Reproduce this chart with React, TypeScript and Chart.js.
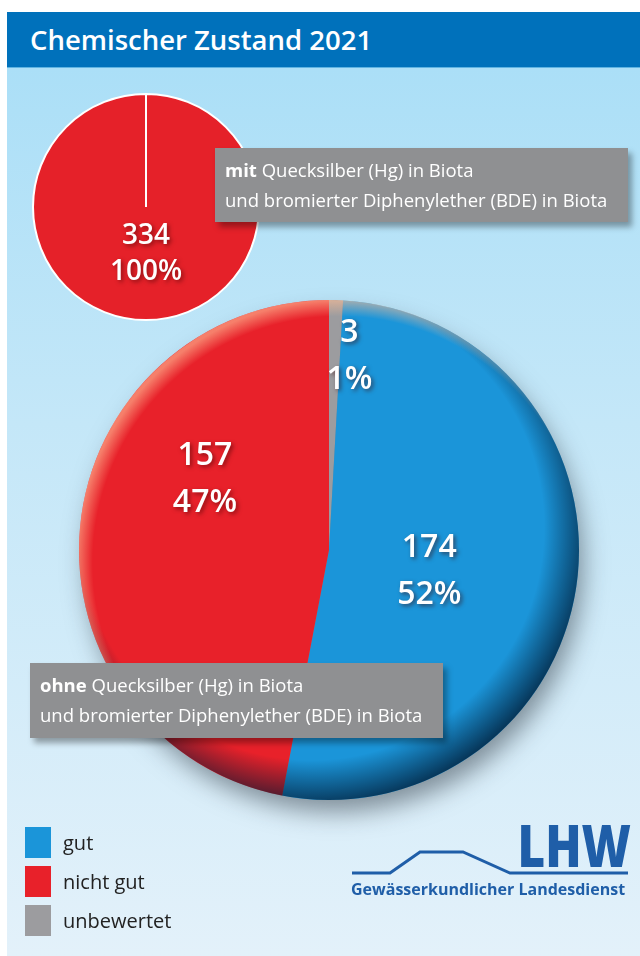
import React, { useEffect, useRef } from "react";
import { Chart, registerables } from "chart.js";

Chart.register(...registerables);

// ---------- data ----------
const title = "Chemischer Zustand 2021";
const legendCategories = ["gut", "nicht gut", "unbewertet"];
const legendColors = ["#1b95d9", "#e8212a", "#9c9c9f"];

// "mit Hg/BDE" pie (single category)
const mitCategories = ["nicht gut"];
const mitValues = [334];
const mitColors = ["#e52129"];

// "ohne Hg/BDE" pie, clockwise from top
const ohneCategories = ["unbewertet", "gut", "nicht gut"];
const ohneValues = [3, 174, 157];
const ohneColors = ["#9c9c9f", "#1b95d9", "#e8212a"];

const mitCaptionBold = "mit";
const ohneCaptionBold = "ohne";
const captionLine1 = " Quecksilber (Hg) in Biota";
const captionLine2 = "und bromierter Diphenylether (BDE) in Biota";

const logoText = "LHW";
const logoSub = "Gewässerkundlicher Landesdienst";

const FONT = "'Open Sans', 'DejaVu Sans', sans-serif";

// ---------- plugins ----------
const pieLabelPlugin = {
  id: "pieLabels",
  afterDatasetsDraw(chart: any, _args: any, opts: any) {
    const meta = chart.getDatasetMeta(0);
    const data: number[] = chart.data.datasets[0].data;
    const total = data.reduce((a, b) => a + b, 0);
    const ctx: CanvasRenderingContext2D = chart.ctx;
    ctx.save();
    ctx.font = opts.font;
    ctx.fillStyle = "#ffffff";
    ctx.textAlign = "center";
    ctx.textBaseline = "middle";
    ctx.shadowColor = "rgba(60,0,0,0.55)";
    ctx.shadowBlur = 4;
    ctx.shadowOffsetX = 2;
    ctx.shadowOffsetY = 2;
    meta.data.forEach((arc: any, i: number) => {
      const { x, y, outerRadius } = arc.getProps(["x", "y", "outerRadius"], true);
      const p = opts.placements[i];
      const a = ((p.angle - 90) * Math.PI) / 180;
      const cx = x + Math.cos(a) * p.r * outerRadius;
      const cy = y + Math.sin(a) * p.r * outerRadius;
      const pct = Math.round((data[i] / total) * 100) + "%";
      ctx.fillText(String(data[i]), cx, cy - opts.lineGap / 2);
      ctx.fillText(pct, cx, cy + opts.lineGap / 2);
    });
    ctx.restore();
  },
};

const pieShadePlugin = {
  id: "pieShade",
  beforeDatasetsDraw(chart: any) {
    const arc = chart.getDatasetMeta(0).data[0];
    if (!arc) return;
    const { x, y, outerRadius: R } = arc.getProps(["x", "y", "outerRadius"], true);
    const ctx: CanvasRenderingContext2D = chart.ctx;
    ctx.save();
    ctx.shadowColor = "rgba(40,50,60,0.5)";
    ctx.shadowBlur = 24;
    ctx.shadowOffsetX = 6;
    ctx.shadowOffsetY = 14;
    ctx.fillStyle = "#7d8a94";
    ctx.beginPath();
    ctx.arc(x, y, R - 2, 0, Math.PI * 2);
    ctx.fill();
    ctx.restore();
  },
  afterDatasetsDraw(chart: any) {
    const arc = chart.getDatasetMeta(0).data[0];
    if (!arc) return;
    const { x, y, outerRadius: R } = arc.getProps(["x", "y", "outerRadius"], true);
    const ctx: CanvasRenderingContext2D = chart.ctx;
    ctx.save();
    ctx.beginPath();
    ctx.arc(x, y, R, 0, Math.PI * 2);
    ctx.clip();
    // dark rim, heavier toward bottom-right
    const dx = x - R * 0.07;
    const dy = y - R * 0.09;
    let g = ctx.createRadialGradient(dx, dy, R * 0.93, dx, dy, R * 1.12);
    g.addColorStop(0, "rgba(0,25,50,0)");
    g.addColorStop(1, "rgba(0,25,50,0.8)");
    ctx.fillStyle = g;
    ctx.fillRect(x - R, y - R, 2 * R, 2 * R);
    // light rim toward top-left
    const lx = x + R * 0.04;
    const ly = y + R * 0.05;
    g = ctx.createRadialGradient(lx, ly, R * 0.985, lx, ly, R * 1.05);
    g.addColorStop(0, "rgba(255,190,150,0)");
    g.addColorStop(1, "rgba(255,190,150,0.6)");
    ctx.fillStyle = g;
    ctx.fillRect(x - R, y - R, 2 * R, 2 * R);
    ctx.restore();
  },
};

// ---------- chart components ----------
function PieCanvas(props: {
  size: number;
  padding: number;
  labels: string[];
  values: number[];
  colors: string[];
  borderWidth: number;
  shaded: boolean;
  labelOpts: any;
  style: React.CSSProperties;
}) {
  const ref = useRef<HTMLCanvasElement | null>(null);
  useEffect(() => {
    if (!ref.current) return;
    const plugins: any[] = [];
    if (props.shaded) plugins.push(pieShadePlugin);
    plugins.push(pieLabelPlugin);
    const chart = new Chart(ref.current, {
      type: "pie",
      data: {
        labels: props.labels,
        datasets: [
          {
            data: props.values,
            backgroundColor: props.colors,
            borderColor: "#ffffff",
            borderWidth: props.borderWidth,
            hoverOffset: 0,
          },
        ],
      },
      options: {
        animation: false,
        responsive: false,
        devicePixelRatio: 1,
        layout: { padding: props.padding },
        events: [],
        plugins: {
          legend: { display: false },
          tooltip: { enabled: false },
          pieLabels: props.labelOpts,
        } as any,
      },
      plugins,
    });
    return () => chart.destroy();
  }, []);
  return (
    <canvas
      ref={ref}
      width={props.size}
      height={props.size}
      style={{ position: "absolute", ...props.style }}
    />
  );
}

function Caption(props: { bold: string; style: React.CSSProperties }) {
  return (
    <div
      style={{
        position: "absolute",
        background: "#8f9092",
        color: "#ffffff",
        fontFamily: FONT,
        fontSize: 18.5,
        lineHeight: "30px",
        padding: "7px 0 7px 10px",
        boxSizing: "border-box",
        boxShadow: "4px 5px 6px rgba(0,0,0,0.35)",
        whiteSpace: "nowrap",
        zIndex: 5,
        ...props.style,
      }}
    >
      <div>
        <b style={{ fontWeight: 700 }}>{props.bold}</b>
        {captionLine1}
      </div>
      <div>{captionLine2}</div>
    </div>
  );
}

export default function App() {
  return (
    <div
      style={{
        position: "absolute",
        left: 0,
        top: 0,
        width: 640,
        height: 956,
        background: "#ffffff",
        overflow: "hidden",
      }}
    >
      {/* panel */}
      <div
        style={{
          position: "absolute",
          left: 7,
          top: 68,
          width: 633,
          height: 888,
          background: "linear-gradient(180deg, #abdff7 0%, #c4e7f8 40%, #e3f1fa 100%)",
        }}
      />
      {/* title bar */}
      <div
        style={{
          position: "absolute",
          left: 7,
          top: 12,
          width: 633,
          height: 56,
          background: "#0071bb",
          borderBottom: "1px solid #5fb4e2",
          boxSizing: "border-box",
          color: "#fff",
          fontFamily: FONT,
          fontWeight: 600,
          fontSize: 27.5,
          lineHeight: "56px",
          paddingLeft: 23,
        }}
      >
        {title}
      </div>

      <PieCanvas
        size={260}
        padding={16}
        labels={mitCategories}
        values={mitValues}
        colors={mitColors}
        borderWidth={2}
        shaded={false}
        labelOpts={{
          font: `600 28px ${FONT}`,
          lineGap: 36,
          placements: [{ angle: 180, r: 0.42 }],
        }}
        style={{ left: 16, top: 77 }}
      />

      <PieCanvas
        size={600}
        padding={50}
        labels={ohneCategories}
        values={ohneValues}
        colors={ohneColors}
        borderWidth={0}
        shaded={true}
        labelOpts={{
          font: `600 32px ${FONT}`,
          lineGap: 47,
          placements: [
            { angle: 6, r: 0.78 },
            { angle: 102, r: 0.41 },
            { angle: 299.5, r: 0.57 },
          ],
        }}
        style={{ left: 29, top: 250 }}
      />

      <Caption bold={mitCaptionBold} style={{ left: 215, top: 148, width: 413, height: 74 }} />
      <Caption bold={ohneCaptionBold} style={{ left: 30, top: 663, width: 413, height: 75 }} />

      {/* legend */}
      {legendCategories.map((c, i) => (
        <div
          key={c}
          style={{
            position: "absolute",
            left: 25,
            top: 827 + i * 39,
            height: 31,
            display: "flex",
            alignItems: "center",
          }}
        >
          <div style={{ width: 26, height: 31, background: legendColors[i] }} />
          <span
            style={{
              marginLeft: 12,
              fontFamily: FONT,
              fontSize: 20,
              color: "#222",
              lineHeight: "31px",
            }}
          >
            {c}
          </span>
        </div>
      ))}

      {/* logo */}
      <svg
        style={{ position: "absolute", left: 340, top: 815 }}
        width={300}
        height={100}
        viewBox="340 815 300 100"
      >
        <polyline
          points="352,873 390,873 420,852 463,852 510,873 628,873"
          fill="none"
          stroke="#1f5ea8"
          strokeWidth={3}
        />
      </svg>
      <div
        style={{
          position: "absolute",
          left: 440,
          top: 812,
          width: 191,
          textAlign: "right",
          whiteSpace: "nowrap",
          fontFamily: FONT,
          fontWeight: 800,
          fontSize: 58,
          lineHeight: "66px",
          color: "#1f5ea8",
          transform: "scaleX(0.82)",
          transformOrigin: "right center",
        }}
      >
        {logoText}
      </div>
      <div
        style={{
          position: "absolute",
          left: 351,
          top: 878,
          width: 290,
          fontFamily: FONT,
          fontWeight: 700,
          fontSize: 16,
          lineHeight: "22px",
          color: "#1f5ea8",
          whiteSpace: "nowrap",
        }}
      >
        {logoSub}
      </div>
    </div>
  );
}
